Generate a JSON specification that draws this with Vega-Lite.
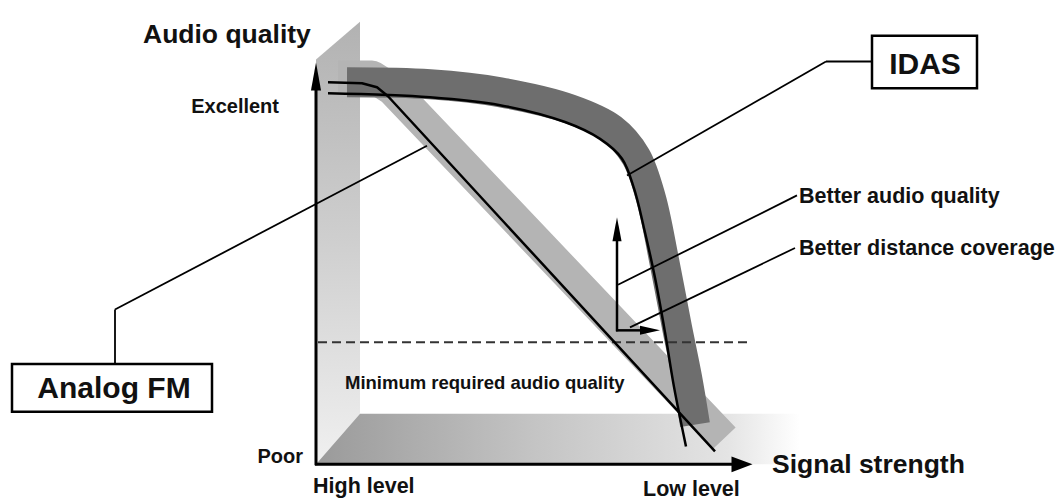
{
  "$schema": "https://vega.github.io/schema/vega-lite/v6.json",
  "width": 1061,
  "height": 501,
  "padding": 0,
  "autosize": {"type": "fit", "contains": "padding"},
  "background": "white",
  "config": {"view": {"stroke": null}, "text": {"font": "Liberation Sans", "fontWeight": "bold", "color": "#111"}},
  "datasets": {
    "wall": [{"x": 316, "y": 60, "y2": 468}, {"x": 360, "y": 22, "y2": 417}],
    "floor": [{"x": 316, "y": 468, "y2": 468}, {"x": 360, "y": 417, "y2": 468}, {"x": 800, "y": 417, "y2": 468}],
    "fmBand": [{"i": 0, "x": 338, "y": 77}, {"i": 1, "x": 372, "y": 77}, {"i": 2, "x": 392, "y": 90}, {"i": 3, "x": 724, "y": 442}],
    "idasBand": [{"i": 0, "x": 347, "y": 83}, {"i": 1, "x": 430, "y": 85}, {"i": 2, "x": 500, "y": 93}, {"i": 3, "x": 570, "y": 110}, {"i": 4, "x": 612, "y": 130}, {"i": 5, "x": 636, "y": 158}, {"i": 6, "x": 651, "y": 200}, {"i": 7, "x": 664, "y": 262}, {"i": 8, "x": 677, "y": 330}, {"i": 9, "x": 687, "y": 380}, {"i": 10, "x": 695, "y": 428}],
    "fmLine": [{"i": 0, "x": 328, "y": 83}, {"i": 1, "x": 362, "y": 84}, {"i": 2, "x": 377, "y": 88}, {"i": 3, "x": 388, "y": 97}, {"i": 4, "x": 715, "y": 455}],
    "idasLine": [{"i": 0, "x": 328, "y": 94}, {"i": 1, "x": 430, "y": 98}, {"i": 2, "x": 500, "y": 106}, {"i": 3, "x": 565, "y": 123}, {"i": 4, "x": 600, "y": 140}, {"i": 5, "x": 622, "y": 160}, {"i": 6, "x": 634, "y": 190}, {"i": 7, "x": 644, "y": 230}, {"i": 8, "x": 655, "y": 280}, {"i": 9, "x": 665, "y": 335}, {"i": 10, "x": 674, "y": 390}, {"i": 11, "x": 686, "y": 450}],
    "dashed": [{"x": 318, "y": 345, "x2": 748, "y2": 345}],
    "axes": [{"x": 316, "y": 469, "x2": 316, "y2": 84}, {"x": 315, "y": 468, "x2": 736, "y2": 468}],
    "smallArrows": [{"x": 617, "y": 334, "x2": 617, "y2": 238}, {"x": 616, "y": 333, "x2": 644, "y2": 333}],
    "leaders": [
      {"x": 427, "y": 147, "x2": 115, "y2": 312},
      {"x": 115, "y": 312, "x2": 115, "y2": 367},
      {"x": 627, "y": 177, "x2": 826, "y2": 62},
      {"x": 826, "y": 62, "x2": 872, "y2": 62},
      {"x": 618, "y": 287, "x2": 797, "y2": 197},
      {"x": 630, "y": 330, "x2": 795, "y2": 250}
    ],
    "boxes": [{"x": 12, "x2": 212, "y": 367, "y2": 415}, {"x": 872, "x2": 977, "y": 36, "y2": 89}],
    "headUpBig": [{"x": 316, "y": 77}],
    "headRightBig": [{"x": 742, "y": 468}],
    "headUpSmall": [{"x": 617, "y": 231}],
    "headRightSmall": [{"x": 650, "y": 333}],
    "titles": [{"label": "Audio quality", "x": 143, "y": 43}, {"label": "Signal strength", "x": 772, "y": 477}],
    "notes": [{"label": "Better audio quality", "x": 799, "y": 205}, {"label": "Better distance coverage", "x": 799, "y": 257}, {"label": "High level", "x": 313, "y": 497}, {"label": "Low level", "x": 643, "y": 500}],
    "levels": [{"label": "Excellent", "x": 279, "y": 114}, {"label": "Poor", "x": 303, "y": 467}],
    "minimum": [{"label": "Minimum required audio quality", "x": 345, "y": 392}],
    "boxLabels": [{"label": "Analog FM", "x": 114, "y": 401}, {"label": "IDAS", "x": 925, "y": 75}]
  },
  "layer": [
    {
      "data": {"name": "wall"},
      "mark": {"type": "area", "color": {"gradient": "linear", "x1": 0, "y1": 0, "x2": 0, "y2": 1, "stops": [{"offset": 0, "color": "#b2b2b2"}, {"offset": 0.5, "color": "#cfcfcf"}, {"offset": 1, "color": "#f0f0f0"}]}},
      "encoding": {
        "x": {"field": "x", "type": "quantitative", "scale": {"domain": [0, 1061], "nice": false, "zero": false}, "axis": null},
        "y": {"field": "y", "type": "quantitative", "scale": {"domain": [0, 501], "reverse": true, "nice": false, "zero": false}, "axis": null},
        "y2": {"field": "y2"}
      }
    },
    {
      "data": {"name": "floor"},
      "mark": {"type": "area", "color": {"gradient": "linear", "x1": 0, "y1": 0, "x2": 1, "y2": 0, "stops": [{"offset": 0, "color": "#9a9a9a"}, {"offset": 0.45, "color": "#c4c4c4"}, {"offset": 0.85, "color": "#e4e4e4"}, {"offset": 1, "color": "#ffffff"}]}},
      "encoding": {
        "x": {"field": "x", "type": "quantitative", "axis": null},
        "y": {"field": "y", "type": "quantitative", "axis": null},
        "y2": {"field": "y2"}
      }
    },
    {
      "data": {"name": "fmBand"},
      "mark": {"type": "line", "color": "#b4b4b4", "strokeWidth": 32, "strokeCap": "butt", "strokeJoin": "round", "interpolate": "linear"},
      "encoding": {
        "x": {"field": "x", "type": "quantitative", "axis": null},
        "y": {"field": "y", "type": "quantitative", "axis": null},
        "order": {"field": "i"}
      }
    },
    {
      "data": {"name": "idasBand"},
      "mark": {"type": "line", "color": "#6e6e6e", "strokeWidth": 30, "strokeCap": "butt", "strokeJoin": "round", "interpolate": "catmull-rom"},
      "encoding": {
        "x": {"field": "x", "type": "quantitative", "axis": null},
        "y": {"field": "y", "type": "quantitative", "axis": null},
        "order": {"field": "i"}
      }
    },
    {
      "data": {"name": "dashed"},
      "mark": {"type": "rule", "color": "#333", "strokeWidth": 2, "strokeDash": [9, 5]},
      "encoding": {
        "x": {"field": "x", "type": "quantitative", "axis": null},
        "y": {"field": "y", "type": "quantitative", "axis": null},
        "x2": {"field": "x2"},
        "y2": {"field": "y2"}
      }
    },
    {
      "data": {"name": "fmLine"},
      "mark": {"type": "line", "color": "#000", "strokeWidth": 2.5, "strokeJoin": "round", "interpolate": "linear"},
      "encoding": {
        "x": {"field": "x", "type": "quantitative", "axis": null},
        "y": {"field": "y", "type": "quantitative", "axis": null},
        "order": {"field": "i"}
      }
    },
    {
      "data": {"name": "idasLine"},
      "mark": {"type": "line", "color": "#000", "strokeWidth": 2.5, "strokeJoin": "round", "interpolate": "catmull-rom"},
      "encoding": {
        "x": {"field": "x", "type": "quantitative", "axis": null},
        "y": {"field": "y", "type": "quantitative", "axis": null},
        "order": {"field": "i"}
      }
    },
    {
      "data": {"name": "axes"},
      "mark": {"type": "rule", "color": "#000", "strokeWidth": 3},
      "encoding": {
        "x": {"field": "x", "type": "quantitative", "axis": null},
        "y": {"field": "y", "type": "quantitative", "axis": null},
        "x2": {"field": "x2"},
        "y2": {"field": "y2"}
      }
    },
    {
      "data": {"name": "smallArrows"},
      "mark": {"type": "rule", "color": "#000", "strokeWidth": 2.5},
      "encoding": {
        "x": {"field": "x", "type": "quantitative", "axis": null},
        "y": {"field": "y", "type": "quantitative", "axis": null},
        "x2": {"field": "x2"},
        "y2": {"field": "y2"}
      }
    },
    {
      "data": {"name": "leaders"},
      "mark": {"type": "rule", "color": "#000", "strokeWidth": 1.8},
      "encoding": {
        "x": {"field": "x", "type": "quantitative", "axis": null},
        "y": {"field": "y", "type": "quantitative", "axis": null},
        "x2": {"field": "x2"},
        "y2": {"field": "y2"}
      }
    },
    {
      "data": {"name": "headUpBig"},
      "mark": {"type": "point", "shape": "M0,-1L0.36,1L-0.36,1Z", "size": 784, "filled": true, "color": "#000", "opacity": 1},
      "encoding": {
        "x": {"field": "x", "type": "quantitative", "axis": null},
        "y": {"field": "y", "type": "quantitative", "axis": null}
      }
    },
    {
      "data": {"name": "headRightBig"},
      "mark": {"type": "point", "shape": "M1,0L-1,-0.75L-1,0.75Z", "size": 441, "filled": true, "color": "#000", "opacity": 1},
      "encoding": {
        "x": {"field": "x", "type": "quantitative", "axis": null},
        "y": {"field": "y", "type": "quantitative", "axis": null}
      }
    },
    {
      "data": {"name": "headUpSmall"},
      "mark": {"type": "point", "shape": "M0,-1L0.38,1L-0.38,1Z", "size": 576, "filled": true, "color": "#000", "opacity": 1},
      "encoding": {
        "x": {"field": "x", "type": "quantitative", "axis": null},
        "y": {"field": "y", "type": "quantitative", "axis": null}
      }
    },
    {
      "data": {"name": "headRightSmall"},
      "mark": {"type": "point", "shape": "M1,0L-1,-0.45L-1,0.45Z", "size": 400, "filled": true, "color": "#000", "opacity": 1},
      "encoding": {
        "x": {"field": "x", "type": "quantitative", "axis": null},
        "y": {"field": "y", "type": "quantitative", "axis": null}
      }
    },
    {
      "data": {"name": "boxes"},
      "mark": {"type": "rect", "fill": "#fff", "stroke": "#000", "strokeWidth": 2.5},
      "encoding": {
        "x": {"field": "x", "type": "quantitative", "axis": null},
        "y": {"field": "y", "type": "quantitative", "axis": null},
        "x2": {"field": "x2"},
        "y2": {"field": "y2"}
      }
    },
    {
      "data": {"name": "titles"},
      "mark": {"type": "text", "fontSize": 26.5, "align": "left", "baseline": "alphabetic"},
      "encoding": {
        "x": {"field": "x", "type": "quantitative", "axis": null},
        "y": {"field": "y", "type": "quantitative", "axis": null},
        "text": {"field": "label"}
      }
    },
    {
      "data": {"name": "notes"},
      "mark": {"type": "text", "fontSize": 21.5, "align": "left", "baseline": "alphabetic"},
      "encoding": {
        "x": {"field": "x", "type": "quantitative", "axis": null},
        "y": {"field": "y", "type": "quantitative", "axis": null},
        "text": {"field": "label"}
      }
    },
    {
      "data": {"name": "levels"},
      "mark": {"type": "text", "fontSize": 20, "align": "right", "baseline": "alphabetic"},
      "encoding": {
        "x": {"field": "x", "type": "quantitative", "axis": null},
        "y": {"field": "y", "type": "quantitative", "axis": null},
        "text": {"field": "label"}
      }
    },
    {
      "data": {"name": "minimum"},
      "mark": {"type": "text", "fontSize": 18.5, "align": "left", "baseline": "alphabetic"},
      "encoding": {
        "x": {"field": "x", "type": "quantitative", "axis": null},
        "y": {"field": "y", "type": "quantitative", "axis": null},
        "text": {"field": "label"}
      }
    },
    {
      "data": {"name": "boxLabels"},
      "mark": {"type": "text", "fontSize": 30, "align": "center", "baseline": "alphabetic"},
      "encoding": {
        "x": {"field": "x", "type": "quantitative", "axis": null},
        "y": {"field": "y", "type": "quantitative", "axis": null},
        "text": {"field": "label"}
      }
    }
  ]
}
